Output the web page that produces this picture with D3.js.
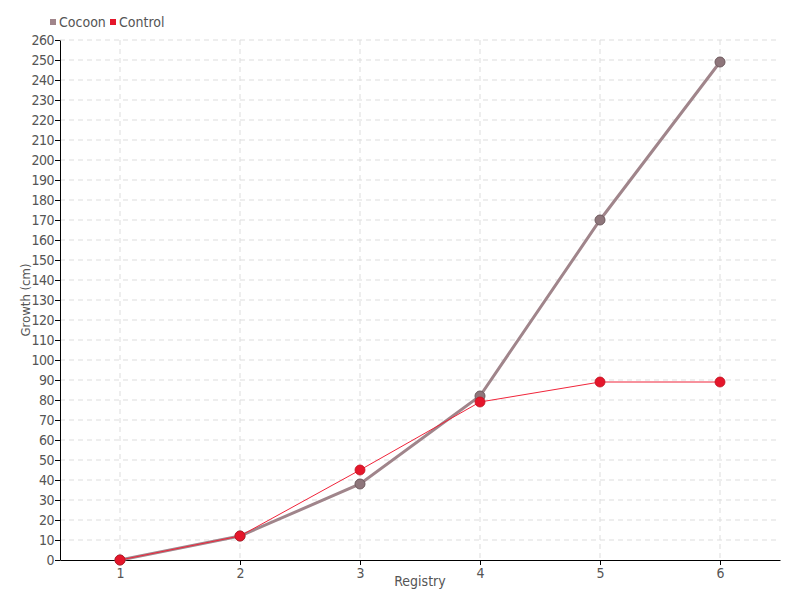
<!DOCTYPE html>
<html><head><meta charset="utf-8">
<script src="https://cdn.jsdelivr.net/npm/d3@7"></script>
<style>
body{margin:0;background:#fff;}
text{font-family:"DejaVu Sans Condensed","Liberation Sans Narrow","Roboto Condensed",sans-serif;}
</style></head>
<body><svg id="c" width="800" height="600"></svg>
<script>
const categories = [1, 2, 3, 4, 5, 6];
const cocoon = [0, 12, 38, 82, 170, 249];
const control = [0, 12, 45, 79, 89, 89];
const seriesNames = ["Cocoon", "Control"];
const yTicks = d3.range(0, 261, 10);

const svg = d3.select("#c");
const m = {l: 60, r: 20, t: 40, b: 40};
const W = 800, H = 600;
const x = d3.scaleLinear().domain([0.5, 6.5]).range([m.l, W - m.r]);
const y = d3.scaleLinear().domain([0, 260]).range([H - m.b, m.t]);
const txtCol = "#555";

// grid
const g = svg.append("g");
g.selectAll(".hg").data(yTicks.slice(1)).enter().append("line")
  .attr("x1", m.l).attr("x2", W - m.r).attr("y1", d => y(d)).attr("y2", d => y(d))
  .attr("stroke", "#ddd").attr("stroke-dasharray", "5,4");
g.selectAll(".vg").data(categories).enter().append("line")
  .attr("x1", d => x(d)).attr("x2", d => x(d)).attr("y1", m.t).attr("y2", H - m.b)
  .attr("stroke", "#ddd").attr("stroke-dasharray", "5,4");

// axes
const ya = svg.append("g").attr("transform", `translate(${m.l},0)`)
  .call(d3.axisLeft(y).tickValues(yTicks).tickSize(5).tickSizeOuter(0));
const xa = svg.append("g").attr("transform", `translate(0,${H - m.b})`)
  .call(d3.axisBottom(x).tickValues(categories).tickFormat(d3.format("d")).tickSize(5).tickSizeOuter(0));
[ya, xa].forEach(a => {
  a.selectAll("text").attr("fill", txtCol).style("font-size", "14px");
  a.select(".domain").attr("stroke", "#000");
  a.selectAll(".tick line").attr("stroke", "#000");
});
ya.selectAll("text").attr("x", -6).style("letter-spacing", "-0.5px");

// lines
const line = d3.line().x((d, i) => x(categories[i])).y(d => y(d));
svg.append("path").datum(cocoon).attr("d", line).attr("fill", "none")
  .attr("stroke", "#a0858b").attr("stroke-width", 3);
svg.selectAll(".cp").data(cocoon).enter().append("circle")
  .attr("cx", (d, i) => x(categories[i])).attr("cy", d => y(d)).attr("r", 5)
  .attr("fill", "#8e767b").attr("stroke", "#6e5a5e").attr("stroke-width", 1);
svg.append("path").datum(control).attr("d", line).attr("fill", "none")
  .attr("stroke", "#f0243a").attr("stroke-width", 1);
svg.selectAll(".rp").data(control).enter().append("circle")
  .attr("cx", (d, i) => x(categories[i])).attr("cy", d => y(d)).attr("r", 5)
  .attr("fill", "#e5162b").attr("stroke", "#c2121f").attr("stroke-width", 0.8);

// axis labels
svg.append("text").attr("x", 420).attr("y", 586).attr("text-anchor", "middle")
  .attr("fill", txtCol).style("font-size", "14px").text("Registry");
svg.append("text").attr("transform", "translate(30,300) rotate(-90)").attr("text-anchor", "middle")
  .attr("fill", txtCol).style("font-size", "13px").text("Growth (cm)");

// legend
const legCols = ["#a0858b", "#e5162b"];
const lx = [50, 110];
seriesNames.forEach((n, i) => {
  svg.append("rect").attr("x", lx[i]).attr("y", 19).attr("width", 6).attr("height", 6).attr("fill", legCols[i]);
  svg.append("text").attr("x", lx[i] + 9).attr("y", 27).attr("fill", txtCol).style("font-size", "14px").text(n);
});
</script></body></html>
